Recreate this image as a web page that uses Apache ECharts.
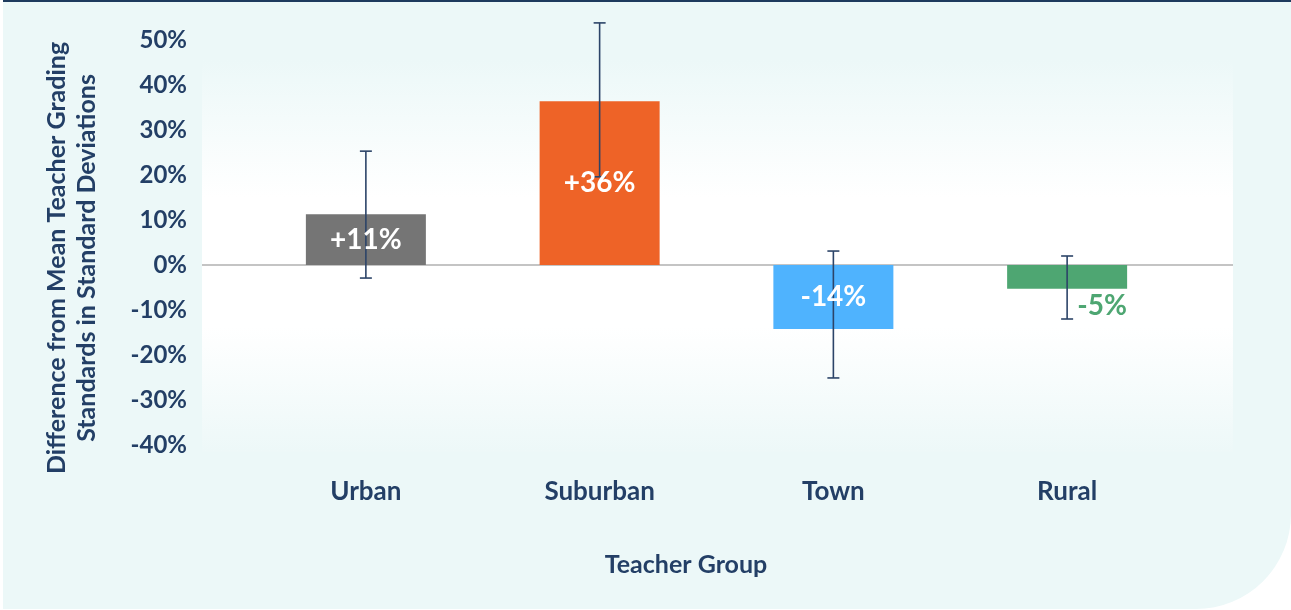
<!DOCTYPE html>
<html>
<head>
<meta charset="utf-8">
<title>Teacher Group</title>
<script src="https://cdn.jsdelivr.net/npm/echarts@6/dist/echarts.min.js"></script>
<style>
  html, body { margin: 0; padding: 0; background: #ffffff; }
  .card {
    position: absolute; left: 3px; top: 0; width: 1288px; height: 609px;
    background: #ecf8f8; border-top: 2px solid #1d3b5e; box-sizing: border-box;
    border-bottom-right-radius: 95px;
  }
  #chart { position: absolute; left: 0; top: 0; width: 1291px; height: 610px; }
</style>
</head>
<body>
<div class="card"></div>
<div id="chart"></div>
<script>
// data
const categories = ['Urban', 'Suburban', 'Town', 'Rural']
const diffValues = [11.3, 36.4, -14.2, -5.3]
const errorLow = [-2.9, 19.6, -25.1, -12]
const errorHigh = [25.3, 53.8, 3.1, 2]
const barColors = ['#757575', '#ee6327', '#4fb3fe', '#4ea672']
const yTicks = [-40, -30, -20, -10, 0, 10, 20, 30, 40, 50]

const navy = '#233f66'
const font = 'Lato'

const chart = echarts.init(document.getElementById('chart'))

const fmt = v => (v > 0 ? '+' : '') + Math.round(v) + '%'

const option = {
  backgroundColor: 'transparent',
  animation: false,
  textStyle: { fontFamily: font },
  grid: { left: 249, right: 107, top: 40, bottom: 165 },
  xAxis: {
    type: 'category',
    data: categories,
    axisLine: { show: false, onZero: false },
    axisTick: { show: false },
    axisLabel: { margin: 34, color: navy, fontSize: 26, fontWeight: 'bold', fontFamily: font }
  },
  yAxis: {
    type: 'value',
    min: yTicks[0],
    max: yTicks[yTicks.length - 1],
    interval: 10,
    splitLine: { show: false },
    axisLine: { show: false },
    axisTick: { show: false },
    axisLabel: {
      margin: 62,
      color: navy,
      fontSize: 24,
      fontWeight: 'bold',
      fontFamily: font,
      formatter: v => v + '%'
    }
  },
  series: [
    {
      // coloured bars
      type: 'bar',
      z: 1,
      barWidth: 120,
      data: diffValues.map((v, i) => ({ value: v, itemStyle: { color: barColors[i] } }))
    },
    {
      // error bars
      type: 'custom',
      z: 2,
      silent: true,
      data: categories.map((c, i) => [i, errorLow[i], errorHigh[i]]),
      encode: { x: 0, y: [1, 2] },
      renderItem: (params, api) => {
        const lo = api.coord([api.value(0), api.value(1)])
        const hi = api.coord([api.value(0), api.value(2)])
        const cap = 6
        const st = { stroke: '#2c4468', lineWidth: 1.6 }
        return {
          type: 'group',
          children: [
            { type: 'line', shape: { x1: hi[0], y1: hi[1], x2: lo[0], y2: lo[1] }, style: st },
            { type: 'line', shape: { x1: hi[0] - cap, y1: hi[1], x2: hi[0] + cap, y2: hi[1] }, style: st },
            { type: 'line', shape: { x1: lo[0] - cap, y1: lo[1], x2: lo[0] + cap, y2: lo[1] }, style: st }
          ]
        }
      }
    },
    {
      // transparent copy on top that carries the labels
      type: 'bar',
      z: 3,
      silent: true,
      barWidth: 120,
      barGap: '-100%',
      itemStyle: { color: 'transparent' },
      label: {
        show: true,
        position: 'inside',
        color: '#ffffff',
        fontSize: 28,
        fontWeight: 'bold',
        fontFamily: font,
        formatter: p => fmt(p.value)
      },
      data: diffValues.map((v, i) => {
        if (i === 3) {
          return {
            value: v,
            label: { position: 'bottom', distance: 3, offset: [35, 0], color: barColors[i] }
          }
        }
        return { value: v }
      })
    }
  ]
}

chart.setOption(option)

// plot background panel, zero line and axis titles
const zeroY = chart.convertToPixel({ yAxisIndex: 0 }, 0)
chart.setOption({
  graphic: [
    {
      type: 'rect',
      z: -10,
      silent: true,
      shape: { x: 202, y: 60, width: 1031, height: 392 },
      style: {
        fill: new echarts.graphic.LinearGradient(0, 0, 0, 1, [
          { offset: 0, color: '#ecf8f8' },
          { offset: 0.35, color: '#ffffff' },
          { offset: 0.68, color: '#ffffff' },
          { offset: 1, color: '#edf8f8' }
        ])
      }
    },
    {
      type: 'line',
      z: 0,
      silent: true,
      shape: { x1: 202, y1: zeroY, x2: 1233, y2: zeroY },
      style: { stroke: '#c4c4c4', lineWidth: 2 }
    },
    {
      type: 'text',
      x: 72,
      y: 258,
      rotation: Math.PI / 2,
      style: {
        text: 'Difference from Mean Teacher Grading\nStandards in Standard Deviations',
        fill: navy,
        font: 'bold 25px ' + font,
        lineHeight: 30,
        align: 'center',
        verticalAlign: 'middle'
      }
    },
    {
      type: 'text',
      x: 686,
      y: 565,
      style: {
        text: 'Teacher Group',
        fill: navy,
        font: 'bold 25px ' + font,
        align: 'center',
        verticalAlign: 'middle'
      }
    }
  ]
})
</script>
</body>
</html>
